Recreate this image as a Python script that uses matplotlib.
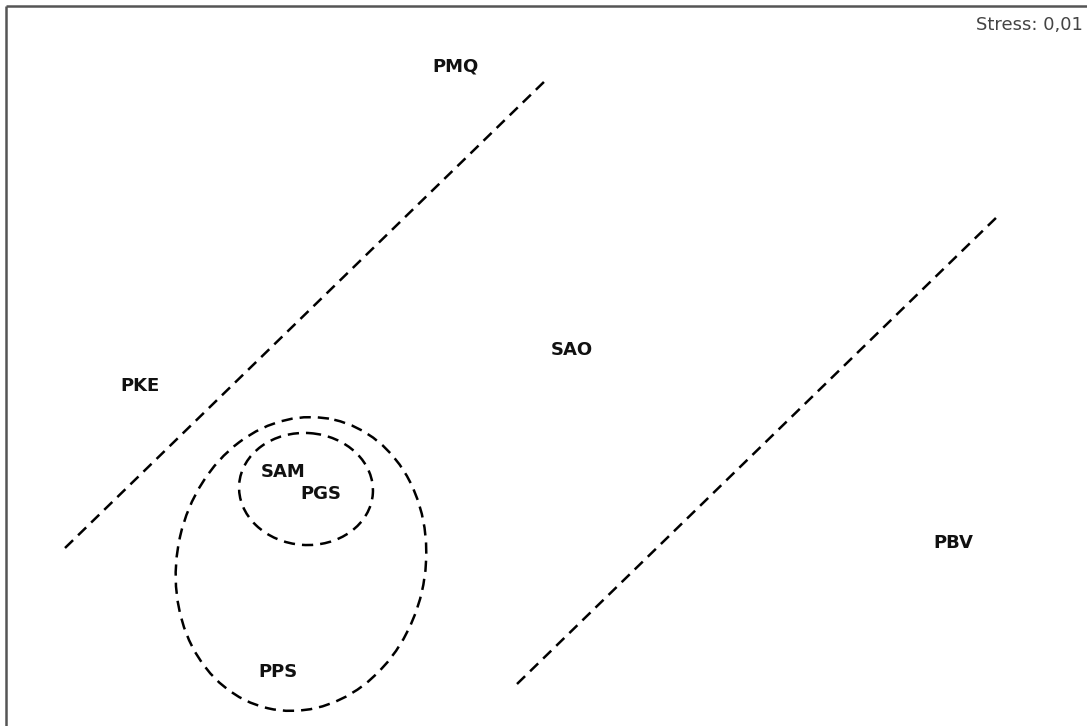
import matplotlib
matplotlib.use('Agg')
import matplotlib.pyplot as plt
from matplotlib.patches import Ellipse

# MDS configuration (screen-like coordinates, y grows downward)
labels = ['PMQ', 'PKE', 'SAO', 'SAM', 'PGS', 'PPS', 'PBV']
pos_x = [455, 140, 572, 283, 321, 278, 953]
pos_y = [67, 386, 350, 472, 494, 672, 543]

# dashed separating lines (start / end)
line_x = [[65, 548], [517, 1000]]
line_y = [[548, 78], [684, 214]]

# dashed groupings: centre x, centre y, width, height, angle
group_cx = [306, 301]
group_cy = [489, 564]
group_w = [134, 248]
group_h = [112, 296]
group_angle = [4, 13]

stress_text = 'Stress: 0,01'

W, H = 1087, 726
fig = plt.figure(figsize=(W / 100, H / 100), dpi=100)
ax = fig.add_axes([0, 0, 1, 1])
ax.set_xlim(0, W)
ax.set_ylim(H, 0)
ax.axis('off')

dash = (0, (4.5, 2.8))

for xs, ys in zip(line_x, line_y):
    ax.plot(xs, ys, color='black', lw=1.8, linestyle=dash)

for cx, cy, w, h, a in zip(group_cx, group_cy, group_w, group_h, group_angle):
    ax.add_patch(Ellipse((cx, cy), w, h, angle=a, fill=False,
                         edgecolor='black', lw=1.8, linestyle=dash))

for lab, x, y in zip(labels, pos_x, pos_y):
    ax.text(x, y, lab, ha='center', va='center', fontsize=13,
            fontweight='bold', color='#111111')

ax.text(1083, 25, stress_text, ha='right', va='center', fontsize=13,
        color='#444444')

# frame: only top and left edges
ax.plot([6, W], [6, 6], color='#555555', lw=1.8, solid_capstyle='butt')
ax.plot([6, 6], [6, H], color='#555555', lw=1.8, solid_capstyle='butt')

fig.savefig('out.png', dpi=100, facecolor='white')
